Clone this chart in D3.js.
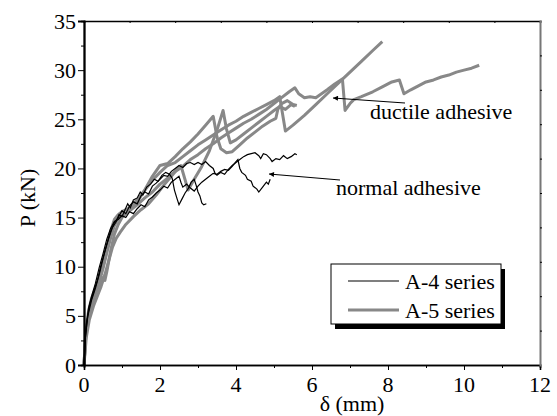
<!DOCTYPE html>
<html>
<head>
<meta charset="utf-8">
<script src="https://cdn.jsdelivr.net/npm/d3@7"></script>
<style>
  svg text, svg tspan { font-family: "Liberation Serif", "Times New Roman", Tinos, serif !important; }
</style>
</head>
<body style="margin:0">
<script>
const WIDTH = 557
const HEIGHT = 416
const LEFT = 84
const RIGHT = 540
const TOP = 21
const BOTTOM = 365

const X_TICKS = [0, 2, 4, 6, 8, 10, 12]
const Y_TICKS = [0, 5, 10, 15, 20, 25, 30, 35]

// A-4 series (normal adhesive), [delta mm, P kN]
const a4Spec1 = [[0,0],[0.03,2.5],[0.08,4.5],[0.15,6.2],[0.25,7.4],[0.35,8.6],[0.45,10.2],[0.55,11.6],[0.65,12.9],[0.75,14.0],[0.85,14.6],[0.92,15.3],[1.0,15.1],[1.08,15.8],[1.15,16.4],[1.22,16.0],[1.3,16.8],[1.4,17.0],[1.48,17.6],[1.55,17.3],[1.65,18.1],[1.75,18.4],[1.85,18.9],[1.95,18.7],[2.05,19.3],[2.15,19.6],[2.25,19.4],[2.32,19.0],[2.38,17.8],[2.45,16.9],[2.5,16.3],[2.58,16.9],[2.66,17.5],[2.75,18.0],[2.82,18.6],[2.9,18.9],[2.95,18.3],[3.0,17.6],[3.05,17.2],[3.1,16.5],[3.15,16.3],[3.22,16.4]]
const a4Spec2 = [[0,0],[0.04,3],[0.1,5],[0.2,6.6],[0.3,7.8],[0.4,9.2],[0.5,10.8],[0.6,12.3],[0.7,13.6],[0.8,14.5],[0.9,15.0],[1.0,15.7],[1.1,15.4],[1.2,16.2],[1.3,16.6],[1.4,16.4],[1.5,17.2],[1.6,17.6],[1.7,17.4],[1.8,18.2],[1.9,18.5],[2.0,18.9],[2.1,19.3],[2.2,19.2],[2.3,19.7],[2.4,20.0],[2.5,20.3],[2.6,20.1],[2.7,20.5],[2.8,20.6],[2.9,20.4],[3.0,20.6],[3.1,20.4],[3.2,20.7],[3.3,20.3],[3.4,20.0],[3.45,19.5],[3.5,19.3],[3.6,19.6],[3.7,19.4],[3.8,19.9],[3.9,20.3],[4.0,20.6],[4.1,20.9],[4.2,21.2],[4.3,21.4],[4.4,21.5],[4.5,21.6],[4.6,21.3],[4.65,21.0],[4.72,21.5],[4.8,21.4],[4.9,21.0],[4.95,20.7],[5.05,21.0],[5.15,20.9],[5.25,21.3],[5.35,21.0],[5.45,21.2],[5.55,21.5],[5.6,21.4]]
const a4Spec3 = [[0,0],[0.05,3.8],[0.12,5.8],[0.2,7.0],[0.3,8.3],[0.4,9.9],[0.5,11.3],[0.6,12.8],[0.7,13.9],[0.8,14.6],[0.9,14.8],[1.0,15.2],[1.1,15.0],[1.2,15.6],[1.3,15.4],[1.4,15.9],[1.5,16.3],[1.6,16.1],[1.7,16.8],[1.8,17.1],[1.9,17.5],[2.0,17.8],[2.1,18.2],[2.2,18.0],[2.3,18.6],[2.4,18.9],[2.5,19.2],[2.55,18.6],[2.6,18.1],[2.7,18.4],[2.8,18.0],[2.9,17.7],[3.0,18.2],[3.1,18.6],[3.2,18.9],[3.3,19.2],[3.4,19.5],[3.5,19.4],[3.6,19.7],[3.7,19.9],[3.8,19.8],[3.9,20.2],[4.0,20.7],[4.05,20.9],[4.1,20.0],[4.15,19.6],[4.25,19.3],[4.3,18.9],[4.4,18.7],[4.45,18.2],[4.55,17.9],[4.6,17.6],[4.7,18.1],[4.8,18.6],[4.85,18.4],[4.9,18.9]]

// A-5 series (ductile adhesive)
const a5Spec1 = [[0,0],[0.04,2.5],[0.1,4.5],[0.2,6.2],[0.3,7.3],[0.4,8.4],[0.5,9.8],[0.6,11.4],[0.7,12.9],[0.8,14.2],[0.9,14.9],[1.0,15.2],[1.2,15.7],[1.4,16.3],[1.6,17.0],[1.8,17.6],[2.0,18.4],[2.2,19.0],[2.4,19.7],[2.6,20.2],[2.8,20.9],[3.0,21.4],[3.2,22.0],[3.4,22.5],[3.6,23.1],[3.8,23.6],[4.0,24.1],[4.2,24.6],[4.4,25.0],[4.6,25.5],[4.8,26.0],[5.0,26.6],[5.2,27.2],[5.4,27.8],[5.55,28.2],[5.65,27.6],[5.8,27.2],[5.95,27.3],[6.1,27.2],[6.25,27.6],[6.4,28.0],[6.6,28.6],[6.8,29.1],[6.87,25.9],[7.0,26.6],[7.1,27.0],[7.3,27.3],[7.6,27.8],[7.85,28.3],[8.1,28.8],[8.3,29.0],[8.42,27.6],[8.6,28.0],[8.8,28.4],[9.0,28.8],[9.2,29.0],[9.4,29.3],[9.6,29.5],[9.8,29.8],[10.0,30.0],[10.2,30.2],[10.4,30.5]]
const a5Spec2 = [[0,0],[0.05,3.5],[0.12,5.5],[0.2,6.8],[0.3,7.8],[0.4,8.8],[0.5,10.0],[0.6,11.8],[0.7,13.6],[0.8,14.8],[0.9,15.3],[1.0,15.6],[1.2,16.0],[1.4,16.8],[1.6,17.8],[1.8,18.8],[2.0,19.6],[2.2,20.3],[2.4,20.6],[2.6,21.2],[2.8,21.8],[3.0,22.4],[3.2,22.9],[3.4,23.4],[3.6,23.9],[3.8,24.4],[4.0,24.8],[4.2,25.3],[4.4,25.7],[4.6,26.1],[4.8,26.5],[5.0,26.9],[5.15,27.3],[5.3,23.8],[5.5,24.4],[5.8,25.4],[6.1,26.5],[6.4,27.6],[6.7,28.7],[7.0,29.8],[7.3,30.9],[7.6,32.0],[7.85,32.9]]
const a5Spec3 = [[0,0],[0.05,3.2],[0.12,5.0],[0.2,6.2],[0.3,7.2],[0.4,8.2],[0.5,8.9],[0.55,8.6],[0.6,9.5],[0.7,11.6],[0.8,13.3],[0.9,14.3],[1.0,15.0],[1.2,15.8],[1.4,16.6],[1.6,17.8],[1.8,19.2],[2.0,20.3],[2.2,20.5],[2.4,21.2],[2.6,22.0],[2.8,22.7],[3.0,23.5],[3.2,24.4],[3.4,25.3],[3.5,23.2],[3.6,22.0],[3.75,21.6],[3.9,21.7],[4.1,22.4],[4.3,23.1],[4.5,23.7],[4.7,24.3],[4.9,24.8],[5.05,25.1],[5.1,26.0],[5.2,26.6],[5.35,26.9],[5.5,26.5],[5.6,26.4]]
const a5Spec4 = [[0,0],[0.06,2.8],[0.14,4.6],[0.25,6.0],[0.35,7.0],[0.45,8.0],[0.55,9.2],[0.65,10.6],[0.75,12.0],[0.85,12.9],[0.95,13.5],[1.1,14.3],[1.3,15.1],[1.5,15.8],[1.7,16.4],[1.9,17.3],[2.1,18.3],[2.3,19.2],[2.45,19.9],[2.55,20.3],[2.74,17.8],[2.9,18.9],[3.1,20.2],[3.3,21.8],[3.5,23.9],[3.66,25.9],[3.75,24.0],[3.85,22.6],[4.0,22.9],[4.2,23.5],[4.4,24.1],[4.6,24.7],[4.8,25.3],[5.0,25.9],[5.15,26.3],[5.3,26.0],[5.45,26.5],[5.55,26.3]]

const A4_CURVES = [a4Spec1, a4Spec2, a4Spec3]
const A5_CURVES = [a5Spec1, a5Spec2, a5Spec3, a5Spec4]
const LEGEND_LABELS = ['A-4 series', 'A-5 series']

const GREY = '#888888'
const FONT = 22
const SERIF = '"Liberation Serif", "Times New Roman", Tinos, serif'

const svg = d3.select('body').append('svg')
  .attr('width', WIDTH)
  .attr('height', HEIGHT)
  .attr('font-family', SERIF)

const x = d3.scaleLinear().domain([0, 12]).range([LEFT, RIGHT])
const y = d3.scaleLinear().domain([0, 35]).range([BOTTOM, TOP])

const line = d3.line()
  .x(d => x(d[0]))
  .y(d => y(d[1]))

// every label gets the serif face as it is made
const addText = (parent, str) => parent.append('text')
  .attr('font-family', SERIF)
  .style('font-family', SERIF, 'important')
  .attr('font-size', FONT)
  .text(str)

svg.append('defs').append('marker')
  .attr('id', 'arrow')
  .attr('viewBox', '0 0 10 10')
  .attr('refX', 10)
  .attr('refY', 5)
  .attr('markerWidth', 7)
  .attr('markerHeight', 5)
  .attr('markerUnits', 'userSpaceOnUse')
  .attr('orient', 'auto')
  .append('path')
  .attr('d', 'M0,0L10,5L0,10Z')
  .attr('fill', '#000')

// curves
svg.append('g')
  .attr('fill', 'none')
  .attr('stroke', GREY)
  .attr('stroke-width', 3)
  .attr('stroke-linejoin', 'round')
  .selectAll('path')
  .data(A5_CURVES)
  .enter()
  .append('path')
  .attr('d', line)

svg.append('g')
  .attr('fill', 'none')
  .attr('stroke', '#000')
  .attr('stroke-width', 1.2)
  .selectAll('path')
  .data(A4_CURVES)
  .enter()
  .append('path')
  .attr('d', line)

// axes
const bottomAxis = svg.append('g')
  .attr('transform', `translate(0,${BOTTOM})`)
  .call(d3.axisBottom(x).tickValues(X_TICKS).tickSize(5).tickFormat(''))
bottomAxis.append('g')
  .call(d3.axisBottom(x).tickValues([1, 3, 5, 7, 9, 11]).tickSize(3).tickFormat(''))
X_TICKS.forEach(v => {
  addText(svg, v)
    .attr('x', x(v))
    .attr('y', BOTTOM + 27)
    .attr('text-anchor', 'middle')
})

const leftAxis = svg.append('g')
  .attr('transform', `translate(${LEFT},0)`)
  .call(d3.axisLeft(y).tickValues(Y_TICKS).tickSize(6).tickFormat(''))
leftAxis.append('g')
  .call(d3.axisLeft(y).tickValues([2.5, 7.5, 12.5, 17.5, 22.5, 27.5, 32.5]).tickSize(3).tickFormat(''))
Y_TICKS.forEach(v => {
  addText(svg, v)
    .attr('x', LEFT - 8)
    .attr('y', y(v) + 7.5)
    .attr('text-anchor', 'end')
})

svg.append('g')
  .attr('transform', `translate(0,${TOP})`)
  .call(d3.axisTop(x).tickValues(d3.range(1, 10).map(i => i * 1.2)).tickSize(-2).tickFormat(''))

const rightAxis = svg.append('g')
  .attr('transform', `translate(${RIGHT},0)`)
  .call(d3.axisRight(y).tickValues(d3.range(1, 10).map(i => i * 3.5)).tickSize(2).tickFormat(''))

svg.selectAll('.domain').attr('stroke-width', 1.6)
leftAxis.select('.domain').attr('stroke-width', 2)
rightAxis.select('.domain').attr('stroke', '#777').attr('stroke-width', 2)

// axis titles
addText(svg, 'δ (mm)')
  .attr('x', 352)
  .attr('y', 411)
  .attr('text-anchor', 'middle')

addText(svg, 'P (kN)')
  .attr('transform', 'translate(35,198) rotate(-90)')
  .attr('text-anchor', 'middle')

// annotations
svg.append('line')
  .attr('x1', 405).attr('y1', 103)
  .attr('x2', 333).attr('y2', 98)
  .attr('stroke', '#000')
  .attr('stroke-width', 1.2)
  .attr('marker-end', 'url(#arrow)')
addText(svg, 'ductile adhesive')
  .attr('x', 370)
  .attr('y', 119)

svg.append('line')
  .attr('x1', 340).attr('y1', 180)
  .attr('x2', 269).attr('y2', 174)
  .attr('stroke', '#000')
  .attr('stroke-width', 1.2)
  .attr('marker-end', 'url(#arrow)')
addText(svg, 'normal adhesive')
  .attr('x', 336)
  .attr('y', 195)

// legend
const legend = svg.append('g')
legend.append('rect')
  .attr('x', 335).attr('y', 269)
  .attr('width', 170).attr('height', 60)
  .attr('fill', '#000')
legend.append('rect')
  .attr('x', 331).attr('y', 264)
  .attr('width', 170).attr('height', 60)
  .attr('fill', '#fff')
  .attr('stroke', '#000')
  .attr('stroke-width', 1)

LEGEND_LABELS.forEach((label, i) => {
  legend.append('line')
    .attr('x1', 348).attr('x2', 399)
    .attr('y1', 281 + i * 29)
    .attr('y2', 281 + i * 29)
    .attr('stroke', i === 0 ? '#000' : GREY)
    .attr('stroke-width', i === 0 ? 1.2 : 3)
  addText(legend, label)
    .attr('x', 405)
    .attr('y', 289 + i * 29)
})

// re-apply the face once fonts are ready, in case the first layout fell back
if (document.fonts && document.fonts.ready) {
  document.fonts.ready.then(() => {
    svg.selectAll('text').style('font-family', SERIF, 'important')
  })
}
</script>
</body>
</html>
